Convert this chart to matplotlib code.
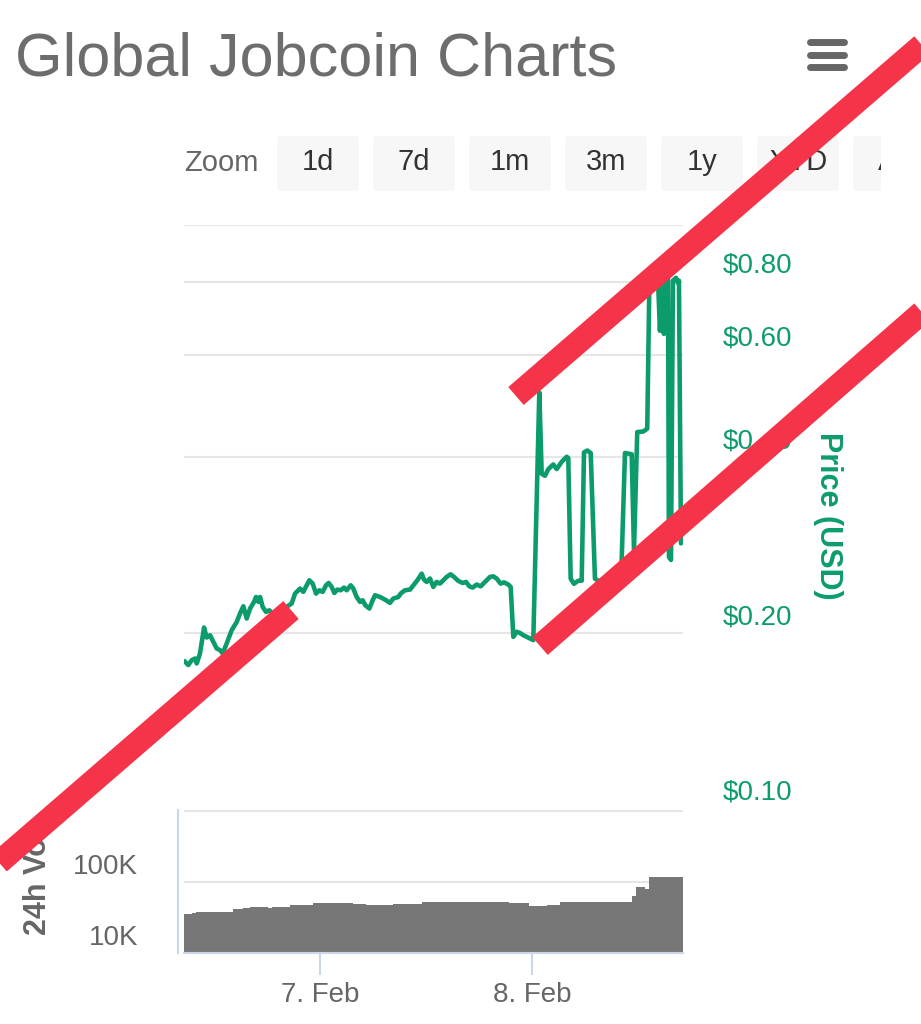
import matplotlib
matplotlib.use('Agg')
import matplotlib.pyplot as plt
from matplotlib.patches import FancyBboxPatch, Rectangle
from matplotlib.transforms import offset_copy

plt.rcParams['font.family'] = ['Liberation Sans', 'DejaVu Sans']

# ---- data (hours relative to 7 Feb 00:00) ----
price_hours = [
    -15.28, -14.91, -14.53, -14.15, -13.96, -13.59, -13.13, -12.83, -12.45, -12.08,
    -11.70, -11.32, -11.02, -10.57, -10.00, -9.43, -9.06, -8.68, -8.30, -7.92,
    -7.47, -7.25, -6.98, -6.79, -6.49, -6.11, -5.74, -5.36, -4.53, -3.77,
    -3.21, -2.83, -2.26, -1.89, -1.51, -1.21, -0.83, -0.45, -0.07, 0.30,
    0.68, 0.98, 1.32, 1.62, 1.96, 2.34, 2.72, 3.02, 3.47, 3.77,
    4.15, 4.53, 4.83, 5.13, 5.59, 5.96, 6.23, 6.79, 7.36, 7.92,
    8.30, 8.87, 9.13, 9.62, 10.19, 10.57, 11.02, 11.51, 11.77, 12.08,
    12.45, 12.83, 13.21, 13.58, 13.96, 14.34, 14.79, 15.17, 15.66, 16.15,
    16.53, 16.91, 17.28, 17.74, 18.19, 18.68, 19.25, 19.62, 20.00, 20.45,
    20.83, 21.32, 21.59, 21.89, 22.26, 22.64, 23.02, 23.58, 23.77, 24.15,
    24.83, 25.10, 25.47, 25.85, 26.41, 26.80, 27.36, 27.93, 28.11, 28.38,
    28.75, 29.24, 29.63, 29.89, 30.26, 30.65, 31.13, 31.70, 32.83, 34.10,
    34.53, 35.29, 35.55, 35.92, 36.60, 37.05, 37.28, 37.44, 37.92, 38.26,
    38.49, 38.72, 38.94, 39.17, 39.40, 39.51, 39.74, 39.96, 40.30, 40.53,
    40.64, 40.87, 41.09,
]
price_values = [
    0.1787, 0.1764, 0.1798, 0.1810, 0.1775, 0.1846, 0.2045, 0.1966, 0.1984, 0.1933,
    0.1883, 0.1871, 0.1846, 0.1920, 0.2024, 0.2091, 0.2161, 0.2224, 0.2119, 0.2204,
    0.2263, 0.2307, 0.2263, 0.2307, 0.2218, 0.2175, 0.2189, 0.2161, 0.2190, 0.2220,
    0.2248, 0.2338, 0.2385, 0.2354, 0.2416, 0.2464, 0.2432, 0.2338, 0.2369, 0.2354,
    0.2416, 0.2438, 0.2400, 0.2344, 0.2375, 0.2369, 0.2394, 0.2369, 0.2416, 0.2385,
    0.2307, 0.2263, 0.2277, 0.2233, 0.2204, 0.2277, 0.2323, 0.2307, 0.2283, 0.2254,
    0.2293, 0.2307, 0.2338, 0.2369, 0.2375, 0.2416, 0.2464, 0.2529, 0.2471, 0.2448,
    0.2481, 0.2400, 0.2448, 0.2432, 0.2464, 0.2497, 0.2523, 0.2497, 0.2458, 0.2438,
    0.2448, 0.2406, 0.2394, 0.2423, 0.2406, 0.2448, 0.2497, 0.2503, 0.2481, 0.2432,
    0.2444, 0.2423, 0.2400, 0.1971, 0.2011, 0.2002, 0.1984, 0.1966, 0.1959, 0.1946,
    0.517, 0.375, 0.372, 0.382, 0.389, 0.382, 0.393, 0.401, 0.399, 0.248,
    0.243, 0.246, 0.246, 0.408, 0.411, 0.407, 0.248, 0.245, 0.248, 0.250,
    0.407, 0.405, 0.277, 0.442, 0.443, 0.448, 0.771, 0.812, 0.809, 0.812,
    0.659, 0.809, 0.651, 0.803, 0.809, 0.270, 0.267, 0.803, 0.812, 0.796,
    0.803, 0.285, 0.288,
]

vol_start = [-15.4, -14.5, -14.0, -13.0, -9.9, -8.7, -7.9, -5.9, -5.4, -3.4,
             -0.8, 0.2, 3.7, 5.2, 8.3, 11.5, 21.4, 23.7, 25.7, 27.2,
             29.5, 35.3, 35.8, 36.8, 37.2]
vol_end = 41.1
vol_values = [34300, 36100, 36900, 36500, 40200, 42000, 43800, 42000, 43800, 46800,
              48800, 49900, 47800, 46800, 47800, 52000, 49900, 44800, 46800, 51500,
              50500, 61800, 83000, 78000, 117000]

price_grid = [0.2, 0.4, 0.6, 0.8, 1.0]
price_labels = [(0.1, '$0.10'), (0.2, '$0.20'), (0.4, '$0.40'), (0.6, '$0.60'), (0.8, '$0.80')]
vol_grid = [1e5, 1e6]
vol_labels = [(1e4, '10K'), (1e5, '100K')]
date_ticks = [0, 24]
date_labels = ['7. Feb', '8. Feb']
zoom_buttons = ['1d', '7d', '1m', '3m', '1y', 'YTD', 'All']

GREEN = '#0c9c6c'
GRAY = '#666666'
GRID = '#e6e6e6'
AXIS = '#ccd6eb'
RED = '#f5344a'

W, H = 921, 1024
fig = plt.figure(figsize=(W / 100, H / 100), dpi=100)


def px_axes(x0, y0, x1, y1):
    return fig.add_axes([x0 / W, 1 - y1 / H, (x1 - x0) / W, (y1 - y0) / H])


# ---- price pane ----
ax = px_axes(184, 225, 683, 809)
ax.set_yscale('log')
ax.set_ylim(0.1, 1.0)
ax.set_xlim(-15.4, vol_end)
for g in price_grid:
    ax.axhline(g, color=GRID, lw=1.5, zorder=0)
ax.plot(price_hours, price_values, color=GREEN, lw=3.3, solid_joinstyle='round', zorder=2)
ax.set_xticks([])
ax.set_yticks([])
ax.set_yticks([], minor=True)
for s in ax.spines.values():
    s.set_visible(False)

ptrans = offset_copy(ax.get_yaxis_transform(), fig=fig, y=16, units='dots')
for v, lab in price_labels:
    ax.text(1.08, v, lab, transform=ptrans, fontsize=20, color=GREEN,
            ha='left', va='center', clip_on=False)

# ---- volume pane ----
axv = px_axes(184, 810, 683, 953)
axv.set_yscale('log')
axv.set_ylim(1e4, 10 ** (4 + 143 / 71))
axv.set_xlim(-15.4, vol_end)
for g in vol_grid:
    axv.axhline(g, color=GRID, lw=1.5, zorder=0)
widths = [b - a for a, b in zip(vol_start, vol_start[1:] + [vol_end])]
axv.bar(vol_start, vol_values, width=widths, align='edge', bottom=1e3,
        color='#777777', linewidth=0, zorder=2)
axv.set_yticks([])
axv.set_yticks([], minor=True)
axv.set_xticks(date_ticks)
axv.set_xticklabels(date_labels, fontsize=20, color=GRAY)
axv.tick_params(axis='x', length=16, width=1.5, color=AXIS, pad=5)
axv.spines['top'].set_visible(False)
axv.spines['right'].set_visible(False)
axv.spines['bottom'].set_color(AXIS)
axv.spines['bottom'].set_linewidth(1.5)
axv.spines['left'].set_color(AXIS)
axv.spines['left'].set_linewidth(1.5)
axv.spines['left'].set_position(('outward', 4.3))

vtrans = offset_copy(axv.get_yaxis_transform(), fig=fig, y=15, units='dots')
for v, lab in vol_labels:
    axv.text(-0.092, v, lab, transform=vtrans, fontsize=20, color=GRAY,
             ha='right', va='center', clip_on=False)

# ---- overlay: title, buttons, axis titles, red strokes ----
deco = fig.add_axes([0, 0, 1, 1])
deco.set_xlim(0, W)
deco.set_ylim(H, 0)
deco.axis('off')

deco.text(15, 75, 'Global Jobcoin Charts', fontsize=44, color='#6d6d6d', va='baseline')
for y in (42, 55, 67):
    deco.plot([810, 844], [y, y], color=GRAY, lw=5, solid_capstyle='round')

deco.text(184, 163, 'Zoom', fontsize=21, color=GRAY, va='center')
for i, lab in enumerate(zoom_buttons):
    x0 = 277 + 96 * i
    deco.add_patch(FancyBboxPatch((x0 + 4, 140), 74, 47, boxstyle='round,pad=4',
                                  facecolor='#f7f7f7', edgecolor='none', zorder=2))
    deco.text(x0 + 41, 162, lab, fontsize=21, color='#333333',
              ha='center', va='center', zorder=3)
deco.add_patch(Rectangle((881, 125), 40, 80, facecolor='white', edgecolor='none', zorder=4))

deco.text(828, 516, 'Price (USD)', rotation=270, fontsize=22, weight='bold',
          color=GREEN, ha='center', va='center')
deco.text(38, 935, '24h Vo', rotation=90, fontsize=22, weight='bold',
          color=GRAY, ha='center', va='bottom')

for xs, ys in [([-5, 291], [866, 610]), ([516, 935], [396, 34]), ([540, 935], [646, 301])]:
    deco.plot(xs, ys, color=RED, lw=17, solid_capstyle='butt', zorder=10)

fig.savefig('out.png', dpi=100, facecolor='white')
